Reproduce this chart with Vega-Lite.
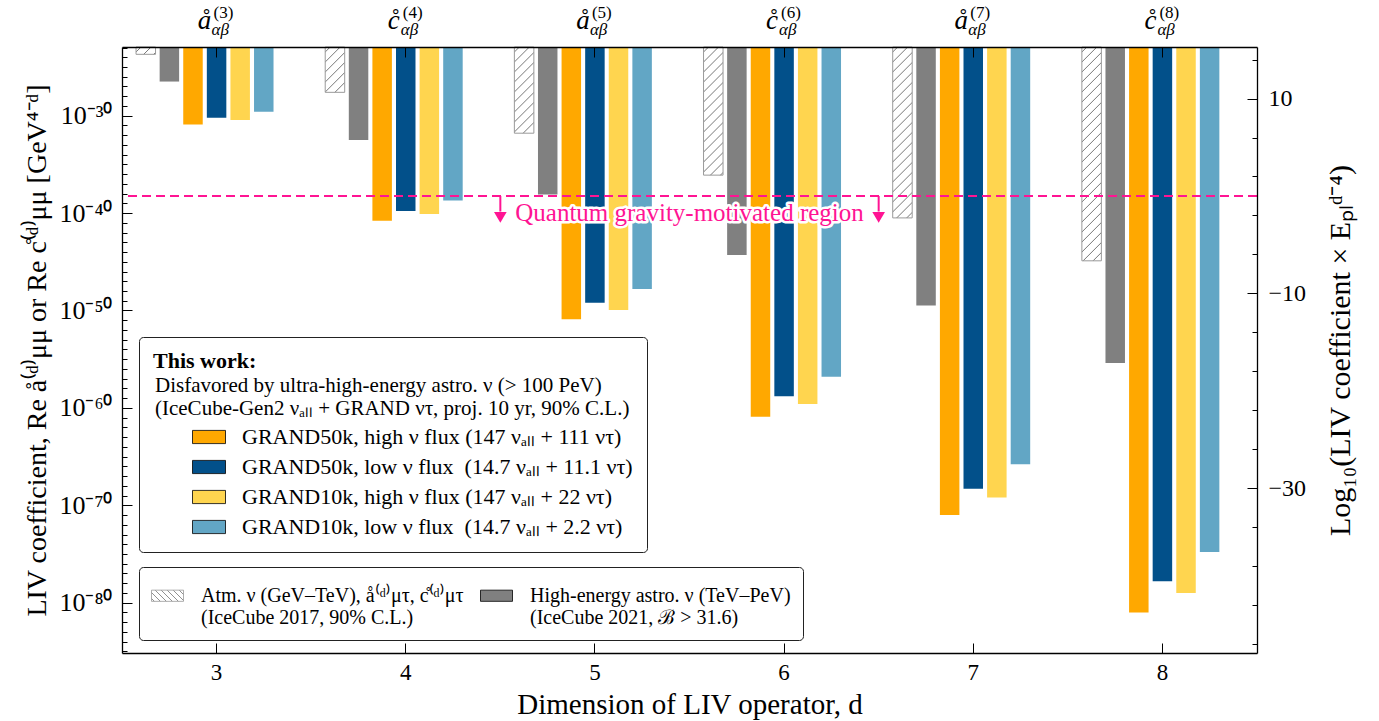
{
  "$schema": "https://vega.github.io/schema/vega-lite/v6.json",
  "width": 1135,
  "height": 606,
  "autosize": {"type": "none"},
  "padding": {"left": 122, "top": 47, "right": 122, "bottom": 68},
  "background": "white",
  "config": {
    "font": "Liberation Serif",
    "view": {"stroke": null},
    "axis": {"grid": false, "domainColor": "#000", "domainWidth": 1.3, "tickColor": "#000", "tickWidth": 1, "labelColor": "#000", "titleColor": "#000", "titleFontWeight": "normal", "labelFont": "Liberation Serif", "titleFont": "Liberation Serif"},
    "legend": {"labelFont": "Liberation Serif", "titleFont": "Liberation Serif", "labelColor": "#000", "titleColor": "#000"},
    "text": {"font": "Liberation Serif"}
  },
  "datasets": {
    "bars": [
      {"d": 3, "series": "atm", "value": 2.0e-24}, {"d": 3, "series": "astro", "value": 3.2e-27}, {"d": 3, "series": "g50h", "value": 1.26e-31}, {"d": 3, "series": "g50l", "value": 6.3e-31}, {"d": 3, "series": "g10h", "value": 3.6e-31}, {"d": 3, "series": "g10l", "value": 2.5e-30},
      {"d": 4, "series": "atm", "value": 2.5e-28}, {"d": 4, "series": "astro", "value": 3.2e-33}, {"d": 4, "series": "g50h", "value": 1.6e-41}, {"d": 4, "series": "g50l", "value": 1.6e-40}, {"d": 4, "series": "g10h", "value": 7.9e-41}, {"d": 4, "series": "g10l", "value": 2.0e-39},
      {"d": 5, "series": "atm", "value": 1.6e-32}, {"d": 5, "series": "astro", "value": 7.9e-39}, {"d": 5, "series": "g50h", "value": 1.26e-51}, {"d": 5, "series": "g50l", "value": 6.3e-50}, {"d": 5, "series": "g10h", "value": 1.1e-50}, {"d": 5, "series": "g10l", "value": 1.6e-48},
      {"d": 6, "series": "atm", "value": 7.9e-37}, {"d": 6, "series": "astro", "value": 5.0e-45}, {"d": 6, "series": "g50h", "value": 1.26e-61}, {"d": 6, "series": "g50l", "value": 1.6e-59}, {"d": 6, "series": "g10h", "value": 2.5e-60}, {"d": 6, "series": "g10l", "value": 1.6e-57},
      {"d": 7, "series": "atm", "value": 3.2e-41}, {"d": 7, "series": "astro", "value": 3.2e-50}, {"d": 7, "series": "g50h", "value": 1.0e-71}, {"d": 7, "series": "g50l", "value": 5.0e-69}, {"d": 7, "series": "g10h", "value": 6.3e-70}, {"d": 7, "series": "g10l", "value": 1.6e-66},
      {"d": 8, "series": "atm", "value": 1.26e-45}, {"d": 8, "series": "astro", "value": 4.0e-56}, {"d": 8, "series": "g50h", "value": 1.0e-81}, {"d": 8, "series": "g50l", "value": 1.6e-78}, {"d": 8, "series": "g10h", "value": 1.0e-79}, {"d": 8, "series": "g10l", "value": 1.6e-75}
    ],
    "toplabels": [
      {"d": 3, "base": "å", "sup": "(3)"}, {"d": 4, "base": "c\u030a", "sup": "(4)"}, {"d": 5, "base": "å", "sup": "(5)"},
      {"d": 6, "base": "c\u030a", "sup": "(6)"}, {"d": 7, "base": "å", "sup": "(7)"}, {"d": 8, "base": "c\u030a", "sup": "(8)"}
    ],
    "arrows": [{"d": 4}, {"d": 6}]
  },
  "layer": [
    {
      "data": {"name": "bars"},
      "encoding": {
        "x": {"field": "d", "type": "ordinal", "scale": {"paddingInner": 0, "paddingOuter": 0},
          "axis": {"orient": "bottom", "title": "Dimension of LIV operator, d", "labelAngle": 0, "tickSize": -10, "labelPadding": 18, "labelFontSize": 23, "titleFontSize": 29, "titlePadding": 6, "zindex": 1}},
        "xOffset": {"field": "series", "type": "nominal", "scale": {"domain": ["atm", "astro", "g50h", "g50l", "g10h", "g10l", "pad"], "paddingInner": 0.174, "paddingOuter": 0.595}},
        "y": {"field": "value", "type": "quantitative", "scale": {"type": "log", "domain": [6.84e-86, 1.13e-23], "nice": false},
          "axis": {"orient": "left",
            "values": [1e-85,1e-84,1e-83,1e-82,1e-81,1e-80,1e-79,1e-78,1e-77,1e-76,1e-75,1e-74,1e-73,1e-72,1e-71,1e-70,1e-69,1e-68,1e-67,1e-66,1e-65,1e-64,1e-63,1e-62,1e-61,1e-60,1e-59,1e-58,1e-57,1e-56,1e-55,1e-54,1e-53,1e-52,1e-51,1e-50,1e-49,1e-48,1e-47,1e-46,1e-45,1e-44,1e-43,1e-42,1e-41,1e-40,1e-39,1e-38,1e-37,1e-36,1e-35,1e-34,1e-33,1e-32,1e-31,1e-30,1e-29,1e-28,1e-27,1e-26,1e-25,1e-24,1e-23],
            "labelExpr": "datum.value === 1e-30 ? '10⁻³⁰' : datum.value === 1e-40 ? '10⁻⁴⁰' : datum.value === 1e-50 ? '10⁻⁵⁰' : datum.value === 1e-60 ? '10⁻⁶⁰' : datum.value === 1e-70 ? '10⁻⁷⁰' : datum.value === 1e-80 ? '10⁻⁸⁰' : ''",
            "tickSize": {"condition": {"test": "round(log(datum.value)/LN10) % 10 === 0", "value": -10}, "value": -5},
            "labelPadding": 20, "labelFontSize": 26, "labelOverlap": false, "labelBound": false, "labelFlush": false,
            "title": "LIV coefficient, Re å⁽ᵈ⁾μμ or Re c\u030a⁽ᵈ⁾μμ [GeV⁴⁻ᵈ]", "titleFontSize": 28, "titlePadding": 7, "zindex": 1}},
        "y2": {"datum": 1.13e-23}
      },
      "layer": [
        {
          "transform": [{"filter": "datum.series === 'atm' || datum.series === 'astro'"}],
          "mark": {"type": "bar"},
          "encoding": {
            "fill": {"field": "series", "type": "nominal", "scale": {"domain": ["atm", "astro"], "range": ["#ffffff", "#808080"]}, "legend": null},
            "opacity": {"field": "series", "type": "ordinal", "sort": ["atm", "astro"], "scale": {"range": [1, 1]},
              "legend": {"orient": "none", "legendX": 17, "legendY": 520, "title": null, "columns": 2, "columnPadding": 14,
                "labelExpr": "datum.value === 'atm' ? ['Atm. ν (GeV–TeV), å⁽ᵈ⁾μτ, c\u030a⁽ᵈ⁾μτ', '(IceCube 2017, 90% C.L.)'] : ['High-energy astro. ν (TeV–PeV)', '(IceCube 2021, ℬ > 31.6)']",
                "labelFontSize": 20, "labelLimit": 700, "labelOffset": 17, "symbolType": "M-1,-0.35H1V0.35H-1Z", "symbolSize": 1024,
                "symbolOpacity": 1, "symbolStrokeWidth": 0.8,
                "symbolStrokeColor": {"expr": "datum.value === 'atm' ? '#999999' : '#000000'"},
                "symbolFillColor": {"expr": "datum.value === 'atm' ? {gradient: 'linear', x1: 0, y1: 1, x2: 1.2027, y2: 0.579, stops: [{offset: 0, color: '#fff'}, {offset: 0.0509, color: '#fff'}, {offset: 0.0694, color: '#777'}, {offset: 0.0879, color: '#fff'}, {offset: 0.1898, color: '#fff'}, {offset: 0.2083, color: '#777'}, {offset: 0.2268, color: '#fff'}, {offset: 0.3287, color: '#fff'}, {offset: 0.3472, color: '#777'}, {offset: 0.3657, color: '#fff'}, {offset: 0.4676, color: '#fff'}, {offset: 0.4861, color: '#777'}, {offset: 0.5046, color: '#fff'}, {offset: 0.6065, color: '#fff'}, {offset: 0.625, color: '#777'}, {offset: 0.6435, color: '#fff'}, {offset: 0.7454, color: '#fff'}, {offset: 0.7639, color: '#777'}, {offset: 0.7824, color: '#fff'}, {offset: 0.8843, color: '#fff'}, {offset: 0.9028, color: '#777'}, {offset: 0.9213, color: '#fff'}, {offset: 1, color: '#fff'}]} : '#808080'"},
                "padding": 12, "strokeColor": "#222", "cornerRadius": 4
              }}
          }
        },
        {
          "transform": [{"filter": "datum.series === 'atm'"}],
          "mark": {"type": "bar", "stroke": "#9a9a9a", "strokeWidth": 1},
          "encoding": {
            "fill": {"condition": [
              {"test": "datum.d === 3", "value": {"gradient": "linear", "x1": 0, "y1": 0, "x2": 1.2056, "y2": 0.4532, "stops": [
                {"offset": 0, "color": "#fff"},
                {"offset": 0.1491, "color": "#fff"}, {"offset": 0.1864, "color": "#777"}, {"offset": 0.2236, "color": "#fff"},
                {"offset": 0.5218, "color": "#fff"}, {"offset": 0.5591, "color": "#777"}, {"offset": 0.5963, "color": "#fff"},
                {"offset": 0.8945, "color": "#fff"}, {"offset": 0.9318, "color": "#777"}, {"offset": 0.9691, "color": "#fff"},
                {"offset": 1, "color": "#fff"}]}},
              {"test": "datum.d === 4", "value": {"gradient": "linear", "x1": 0, "y1": 0, "x2": 0.5195, "y2": 1.2069, "stops": [
                {"offset": 0, "color": "#fff"},
                {"offset": 0.0618, "color": "#fff"}, {"offset": 0.0772, "color": "#777"}, {"offset": 0.0926, "color": "#fff"},
                {"offset": 0.2161, "color": "#fff"}, {"offset": 0.2315, "color": "#777"}, {"offset": 0.2469, "color": "#fff"},
                {"offset": 0.3704, "color": "#fff"}, {"offset": 0.3858, "color": "#777"}, {"offset": 0.4012, "color": "#fff"},
                {"offset": 0.5247, "color": "#fff"}, {"offset": 0.5401, "color": "#777"}, {"offset": 0.5555, "color": "#fff"},
                {"offset": 0.679, "color": "#fff"}, {"offset": 0.6944, "color": "#777"}, {"offset": 0.7098, "color": "#fff"},
                {"offset": 0.8334, "color": "#fff"}, {"offset": 0.8488, "color": "#777"}, {"offset": 0.8642, "color": "#fff"},
                {"offset": 1, "color": "#fff"}]}},
              {"test": "datum.d === 5", "value": {"gradient": "linear", "x1": 0, "y1": 0, "x2": 0.2639, "y2": 1.1665, "stops": [
                {"offset": 0, "color": "#fff"},
                {"offset": 0.0378, "color": "#fff"}, {"offset": 0.0473, "color": "#777"}, {"offset": 0.0568, "color": "#fff"},
                {"offset": 0.1324, "color": "#fff"}, {"offset": 0.1419, "color": "#777"}, {"offset": 0.1514, "color": "#fff"},
                {"offset": 0.227, "color": "#fff"}, {"offset": 0.2365, "color": "#777"}, {"offset": 0.246, "color": "#fff"},
                {"offset": 0.3216, "color": "#fff"}, {"offset": 0.3311, "color": "#777"}, {"offset": 0.3406, "color": "#fff"},
                {"offset": 0.4162, "color": "#fff"}, {"offset": 0.4257, "color": "#777"}, {"offset": 0.4352, "color": "#fff"},
                {"offset": 0.5108, "color": "#fff"}, {"offset": 0.5203, "color": "#777"}, {"offset": 0.5298, "color": "#fff"},
                {"offset": 0.6054, "color": "#fff"}, {"offset": 0.6149, "color": "#777"}, {"offset": 0.6244, "color": "#fff"},
                {"offset": 0.7001, "color": "#fff"}, {"offset": 0.7096, "color": "#777"}, {"offset": 0.7191, "color": "#fff"},
                {"offset": 0.7947, "color": "#fff"}, {"offset": 0.8042, "color": "#777"}, {"offset": 0.8137, "color": "#fff"},
                {"offset": 0.8893, "color": "#fff"}, {"offset": 0.8988, "color": "#777"}, {"offset": 0.9083, "color": "#fff"},
                {"offset": 1, "color": "#fff"}]}},
              {"test": "datum.d === 6", "value": {"gradient": "linear", "x1": 0, "y1": 0, "x2": 0.1714, "y2": 1.1261, "stops": [
                {"offset": 0, "color": "#fff"},
                {"offset": 0.0271, "color": "#fff"}, {"offset": 0.0339, "color": "#777"}, {"offset": 0.0407, "color": "#fff"},
                {"offset": 0.0948, "color": "#fff"}, {"offset": 0.1016, "color": "#777"}, {"offset": 0.1084, "color": "#fff"},
                {"offset": 0.1626, "color": "#fff"}, {"offset": 0.1694, "color": "#777"}, {"offset": 0.1762, "color": "#fff"},
                {"offset": 0.2303, "color": "#fff"}, {"offset": 0.2371, "color": "#777"}, {"offset": 0.2439, "color": "#fff"},
                {"offset": 0.2981, "color": "#fff"}, {"offset": 0.3049, "color": "#777"}, {"offset": 0.3117, "color": "#fff"},
                {"offset": 0.3658, "color": "#fff"}, {"offset": 0.3726, "color": "#777"}, {"offset": 0.3794, "color": "#fff"},
                {"offset": 0.4336, "color": "#fff"}, {"offset": 0.4404, "color": "#777"}, {"offset": 0.4472, "color": "#fff"},
                {"offset": 0.5013, "color": "#fff"}, {"offset": 0.5081, "color": "#777"}, {"offset": 0.5149, "color": "#fff"},
                {"offset": 0.5691, "color": "#fff"}, {"offset": 0.5759, "color": "#777"}, {"offset": 0.5827, "color": "#fff"},
                {"offset": 0.6368, "color": "#fff"}, {"offset": 0.6436, "color": "#777"}, {"offset": 0.6504, "color": "#fff"},
                {"offset": 0.7046, "color": "#fff"}, {"offset": 0.7114, "color": "#777"}, {"offset": 0.7182, "color": "#fff"},
                {"offset": 0.7723, "color": "#fff"}, {"offset": 0.7791, "color": "#777"}, {"offset": 0.7859, "color": "#fff"},
                {"offset": 0.8401, "color": "#fff"}, {"offset": 0.8469, "color": "#777"}, {"offset": 0.8537, "color": "#fff"},
                {"offset": 0.9078, "color": "#fff"}, {"offset": 0.9146, "color": "#777"}, {"offset": 0.9214, "color": "#fff"},
                {"offset": 0.9756, "color": "#fff"}, {"offset": 0.9824, "color": "#777"}, {"offset": 0.9892, "color": "#fff"},
                {"offset": 1, "color": "#fff"}]}},
              {"test": "datum.d === 7", "value": {"gradient": "linear", "x1": 0, "y1": 0, "x2": 0.1254, "y2": 1.0997, "stops": [
                {"offset": 0, "color": "#fff"},
                {"offset": 0.0209, "color": "#fff"}, {"offset": 0.0262, "color": "#777"}, {"offset": 0.0315, "color": "#fff"},
                {"offset": 0.0734, "color": "#fff"}, {"offset": 0.0787, "color": "#777"}, {"offset": 0.084, "color": "#fff"},
                {"offset": 0.1259, "color": "#fff"}, {"offset": 0.1312, "color": "#777"}, {"offset": 0.1365, "color": "#fff"},
                {"offset": 0.1784, "color": "#fff"}, {"offset": 0.1837, "color": "#777"}, {"offset": 0.189, "color": "#fff"},
                {"offset": 0.2309, "color": "#fff"}, {"offset": 0.2362, "color": "#777"}, {"offset": 0.2415, "color": "#fff"},
                {"offset": 0.2834, "color": "#fff"}, {"offset": 0.2887, "color": "#777"}, {"offset": 0.294, "color": "#fff"},
                {"offset": 0.3359, "color": "#fff"}, {"offset": 0.3412, "color": "#777"}, {"offset": 0.3465, "color": "#fff"},
                {"offset": 0.3884, "color": "#fff"}, {"offset": 0.3937, "color": "#777"}, {"offset": 0.399, "color": "#fff"},
                {"offset": 0.4409, "color": "#fff"}, {"offset": 0.4462, "color": "#777"}, {"offset": 0.4515, "color": "#fff"},
                {"offset": 0.4934, "color": "#fff"}, {"offset": 0.4987, "color": "#777"}, {"offset": 0.504, "color": "#fff"},
                {"offset": 0.5459, "color": "#fff"}, {"offset": 0.5512, "color": "#777"}, {"offset": 0.5565, "color": "#fff"},
                {"offset": 0.5984, "color": "#fff"}, {"offset": 0.6037, "color": "#777"}, {"offset": 0.609, "color": "#fff"},
                {"offset": 0.6509, "color": "#fff"}, {"offset": 0.6562, "color": "#777"}, {"offset": 0.6615, "color": "#fff"},
                {"offset": 0.7034, "color": "#fff"}, {"offset": 0.7087, "color": "#777"}, {"offset": 0.714, "color": "#fff"},
                {"offset": 0.7559, "color": "#fff"}, {"offset": 0.7612, "color": "#777"}, {"offset": 0.7665, "color": "#fff"},
                {"offset": 0.8083, "color": "#fff"}, {"offset": 0.8136, "color": "#777"}, {"offset": 0.8189, "color": "#fff"},
                {"offset": 0.8608, "color": "#fff"}, {"offset": 0.8661, "color": "#777"}, {"offset": 0.8714, "color": "#fff"},
                {"offset": 0.9133, "color": "#fff"}, {"offset": 0.9186, "color": "#777"}, {"offset": 0.9239, "color": "#fff"},
                {"offset": 0.9658, "color": "#fff"}, {"offset": 0.9711, "color": "#777"}, {"offset": 0.9764, "color": "#fff"},
                {"offset": 1, "color": "#fff"}]}},
              {"test": "datum.d === 8", "value": {"gradient": "linear", "x1": 0, "y1": 0, "x2": 0.0987, "y2": 1.0822, "stops": [
                {"offset": 0, "color": "#fff"},
                {"offset": 0.0171, "color": "#fff"}, {"offset": 0.0214, "color": "#777"}, {"offset": 0.0257, "color": "#fff"},
                {"offset": 0.06, "color": "#fff"}, {"offset": 0.0643, "color": "#777"}, {"offset": 0.0686, "color": "#fff"},
                {"offset": 0.1029, "color": "#fff"}, {"offset": 0.1072, "color": "#777"}, {"offset": 0.1115, "color": "#fff"},
                {"offset": 0.1457, "color": "#fff"}, {"offset": 0.15, "color": "#777"}, {"offset": 0.1543, "color": "#fff"},
                {"offset": 0.1886, "color": "#fff"}, {"offset": 0.1929, "color": "#777"}, {"offset": 0.1972, "color": "#fff"},
                {"offset": 0.2314, "color": "#fff"}, {"offset": 0.2357, "color": "#777"}, {"offset": 0.24, "color": "#fff"},
                {"offset": 0.2743, "color": "#fff"}, {"offset": 0.2786, "color": "#777"}, {"offset": 0.2829, "color": "#fff"},
                {"offset": 0.3172, "color": "#fff"}, {"offset": 0.3215, "color": "#777"}, {"offset": 0.3258, "color": "#fff"},
                {"offset": 0.36, "color": "#fff"}, {"offset": 0.3643, "color": "#777"}, {"offset": 0.3686, "color": "#fff"},
                {"offset": 0.4029, "color": "#fff"}, {"offset": 0.4072, "color": "#777"}, {"offset": 0.4115, "color": "#fff"},
                {"offset": 0.4458, "color": "#fff"}, {"offset": 0.4501, "color": "#777"}, {"offset": 0.4544, "color": "#fff"},
                {"offset": 0.4886, "color": "#fff"}, {"offset": 0.4929, "color": "#777"}, {"offset": 0.4972, "color": "#fff"},
                {"offset": 0.5315, "color": "#fff"}, {"offset": 0.5358, "color": "#777"}, {"offset": 0.5401, "color": "#fff"},
                {"offset": 0.5743, "color": "#fff"}, {"offset": 0.5786, "color": "#777"}, {"offset": 0.5829, "color": "#fff"},
                {"offset": 0.6172, "color": "#fff"}, {"offset": 0.6215, "color": "#777"}, {"offset": 0.6258, "color": "#fff"},
                {"offset": 0.6601, "color": "#fff"}, {"offset": 0.6644, "color": "#777"}, {"offset": 0.6687, "color": "#fff"},
                {"offset": 0.7029, "color": "#fff"}, {"offset": 0.7072, "color": "#777"}, {"offset": 0.7115, "color": "#fff"},
                {"offset": 0.7458, "color": "#fff"}, {"offset": 0.7501, "color": "#777"}, {"offset": 0.7544, "color": "#fff"},
                {"offset": 0.7887, "color": "#fff"}, {"offset": 0.793, "color": "#777"}, {"offset": 0.7973, "color": "#fff"},
                {"offset": 0.8315, "color": "#fff"}, {"offset": 0.8358, "color": "#777"}, {"offset": 0.8401, "color": "#fff"},
                {"offset": 0.8744, "color": "#fff"}, {"offset": 0.8787, "color": "#777"}, {"offset": 0.883, "color": "#fff"},
                {"offset": 0.9173, "color": "#fff"}, {"offset": 0.9216, "color": "#777"}, {"offset": 0.9259, "color": "#fff"},
                {"offset": 0.9601, "color": "#fff"}, {"offset": 0.9644, "color": "#777"}, {"offset": 0.9687, "color": "#fff"},
                {"offset": 1, "color": "#fff"}]}}
            ], "value": "#ffffff"}
          }
        },
        {
          "transform": [{"filter": "indexof(['g50h','g50l','g10h','g10l'], datum.series) >= 0"}],
          "mark": {"type": "bar"},
          "encoding": {
            "color": {"field": "series", "type": "nominal",
              "scale": {"domain": ["g50h", "g50l", "g10h", "g10l"], "range": ["#FFA800", "#02508A", "#FFD54F", "#62A6C5"]},
              "legend": {"orient": "none", "legendX": 17, "legendY": 290, "title": "This work:", "titleFontSize": 22, "titleFontWeight": "bold", "titlePadding": 47,
                "labelExpr": "datum.value === 'g50h' ? 'GRAND50k, high ν flux (147 νₐₗₗ + 111 ντ)' : datum.value === 'g50l' ? 'GRAND50k, low ν flux\u2002(14.7 νₐₗₗ + 11.1 ντ)' : datum.value === 'g10h' ? 'GRAND10k, high ν flux (147 νₐₗₗ + 22 ντ)' : 'GRAND10k, low ν flux\u2002(14.7 νₐₗₗ + 2.2 ντ)'",
                "labelFontSize": 22, "labelLimit": 700, "labelOffset": 16, "symbolType": "M-1,-0.4H1V0.4H-1Z", "symbolSize": 1089, "symbolOffset": 39,
                "symbolStrokeColor": "#000000", "symbolStrokeWidth": 0.8,
                "rowPadding": 2, "padding": 14, "strokeColor": "#222", "cornerRadius": 4}}
          }
        }
      ]
    },
    {
      "data": {"name": "toplabels"},
      "encoding": {
        "x": {"field": "d", "type": "ordinal", "axis": {"orient": "top", "labels": false, "tickSize": -10, "title": null, "zindex": 1}},
        "y": {"datum": 1.13e-23, "type": "quantitative", "scale": {"type": "log", "domain": [6.84e-86, 1.13e-23], "nice": false}, "axis": null}
      },
      "layer": [
        {"mark": {"type": "text", "fontSize": 27, "fontStyle": "italic", "align": "center", "baseline": "alphabetic", "dx": -12, "dy": -18, "color": "#000"}, "encoding": {"text": {"field": "base"}}},
        {"mark": {"type": "text", "fontSize": 17, "align": "left", "baseline": "alphabetic", "dx": -3, "dy": -29, "color": "#000"}, "encoding": {"text": {"field": "sup"}}},
        {"mark": {"type": "text", "fontSize": 17, "fontStyle": "italic", "align": "left", "baseline": "alphabetic", "dx": -5, "dy": -12, "color": "#000", "text": "αβ"}}
      ]
    },
    {
      "data": {"values": [{}]},
      "layer": [
        {
          "mark": {"type": "rule", "color": "#ff1493", "strokeDash": [9, 5], "strokeWidth": 2},
          "encoding": {
            "y": {"datum": 0, "type": "quantitative", "scale": {"domain": [-46.925, 15.293], "nice": false, "zero": false},
              "axis": {"orient": "right",
                "values": [-46,-45,-44,-43,-42,-41,-40,-39,-38,-37,-36,-35,-34,-33,-32,-31,-30,-29,-28,-27,-26,-25,-24,-23,-22,-21,-20,-19,-18,-17,-16,-15,-14,-13,-12,-11,-10,-9,-8,-7,-6,-5,-4,-3,-2,-1,0,1,2,3,4,5,6,7,8,9,10,11,12,13,14,15],
                "labelExpr": "datum.value === 0 ? '0' : datum.value % 10 === 0 ? (datum.value < 0 ? '−' + abs(datum.value) : '' + datum.value) : ''",
                "tickSize": {"condition": {"test": "datum.value % 10 === 0", "value": -10}, "value": -5},
                "labelPadding": 21, "labelFontSize": 24, "labelOverlap": false, "labelBound": false, "labelFlush": false,
                "title": "Log₁₀(LIV coefficient × Eₚₗᵈ⁻⁴)", "titleAngle": 270, "titleBaseline": "top", "titleFontSize": 30, "titlePadding": 20, "zindex": 1}}
          }
        },
        {
          "data": {"name": "arrows"},
          "mark": {"type": "rule", "color": "#ff1493", "strokeWidth": 2},
          "encoding": {
            "x": {"field": "d", "type": "ordinal", "bandPosition": 1, "axis": null},
            "y": {"datum": 0, "type": "quantitative"},
            "y2": {"datum": -1.6}
          }
        },
        {
          "data": {"name": "arrows"},
          "mark": {"type": "point", "shape": "triangle-down", "filled": true, "color": "#ff1493", "size": 160, "opacity": 1},
          "encoding": {
            "x": {"field": "d", "type": "ordinal", "bandPosition": 1, "axis": null},
            "y": {"datum": -2.2, "type": "quantitative"}
          }
        },
        {
          "mark": {"type": "text", "text": "Quantum gravity-motivated region", "fontSize": 25, "fill": "#ffffff", "stroke": "#ffffff", "strokeWidth": 5, "strokeJoin": "round", "align": "center", "baseline": "alphabetic"},
          "encoding": {
            "x": {"datum": 5, "type": "ordinal", "bandPosition": 1, "axis": null},
            "y": {"datum": -2.62, "type": "quantitative"}
          }
        },
        {
          "mark": {"type": "text", "text": "Quantum gravity-motivated region", "fontSize": 25, "color": "#ff1493", "align": "center", "baseline": "alphabetic"},
          "encoding": {
            "x": {"datum": 5, "type": "ordinal", "bandPosition": 1, "axis": null},
            "y": {"datum": -2.62, "type": "quantitative"}
          }
        },
        {
          "mark": {"type": "text", "text": "Disfavored by ultra-high-energy astro. ν (> 100 PeV)", "fontSize": 21, "color": "#000", "align": "left", "baseline": "alphabetic"},
          "encoding": {
            "x": {"datum": 3, "type": "ordinal", "bandPosition": 0.1744, "axis": null},
            "y": {"datum": -20.128, "type": "quantitative"}
          }
        },
        {
          "mark": {"type": "text", "text": "(IceCube-Gen2 νₐₗₗ + GRAND ντ, proj. 10 yr, 90% C.L.)", "fontSize": 21, "color": "#000", "align": "left", "baseline": "alphabetic"},
          "encoding": {
            "x": {"datum": 3, "type": "ordinal", "bandPosition": 0.1744, "axis": null},
            "y": {"datum": -22.489, "type": "quantitative"}
          }
        }
      ]
    }
  ],
  "resolve": {"scale": {"y": "independent"}, "axis": {"x": "independent", "y": "independent"}}
}
